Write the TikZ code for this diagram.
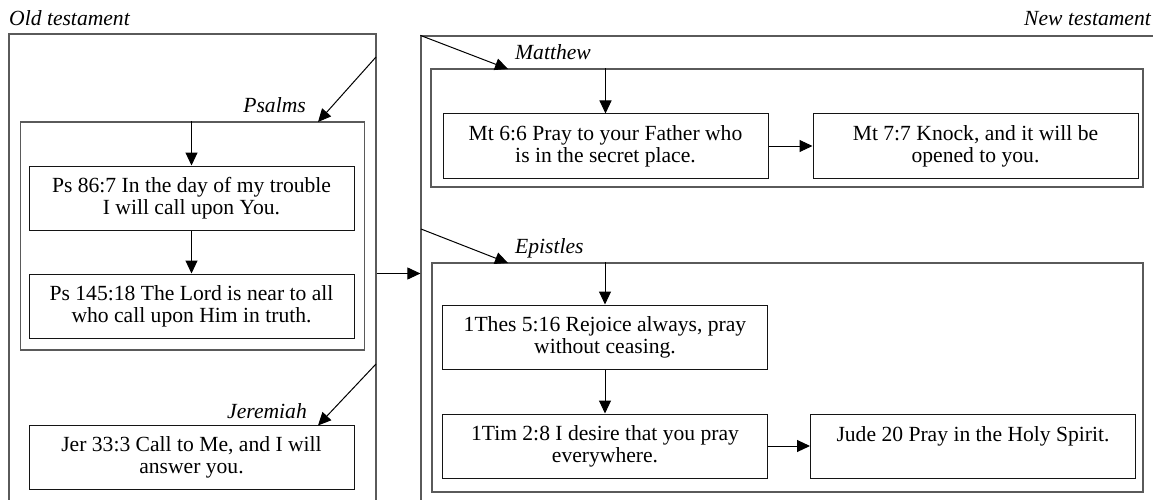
\documentclass[tikz,border=0pt]{standalone}
\usepackage{fontspec}
\setmainfont{Liberation Serif}
\usetikzlibrary{arrows.meta,positioning}
\definecolor{frameGray}{RGB}{90,90,90}
\definecolor{verseInk}{RGB}{20,20,20}

\begin{document}
\begin{tikzpicture}[x=1pt, y=-1pt,
    verse/.style={rectangle, draw=verseInk, line width=1pt, minimum width=325pt,
                  minimum height=64pt, inner sep=0pt, align=center,
                  font=\fontsize{21.6}{22}\selectfont},
    group/.style={rectangle, draw=frameGray, line width=1.2pt, inner sep=0pt},
    caption/.style={inner sep=0pt, font=\fontsize{21.6}{22}\selectfont\itshape},
    arr/.style={-{Triangle[length=13pt, width=12pt]}, black, line width=1pt}
  ]
  \useasboundingbox (0,0) rectangle (1153,500);
  \clip (0,0) rectangle (1153,500);

  % testaments and books
  \node[group, minimum width=367pt, minimum height=500pt] (ot) at (192.5,284) {};
  \node[group, minimum width=344pt, minimum height=228pt] (psalms) at (192.5,236) {};
  \node[group, minimum width=760pt, minimum height=500pt] (nt) at (801,286) {};
  \node[group, minimum width=712pt, minimum height=118pt] (matthew) at (787,128) {};
  \node[group, minimum width=711pt, minimum height=229pt] (epistles) at (787.5,377.5) {};

  \node[caption, anchor=base west] (otlabel) at (9,26) {Old testament};
  \node[caption, anchor=base east] (ntlabel) at (1151,26) {New testament};
  \node[caption, anchor=base east] (pslabel) at (306,113) {Psalms};
  \node[caption, anchor=base east] (jerlabel) at (307,418) {Jeremiah};
  \node[caption, anchor=base west] (mtlabel) at (515,60) {Matthew};
  \node[caption, anchor=base west] (eplabel) at (515,253) {Epistles};

  % verses
  \node[verse] (ps86)  at (191.5,198) {Ps 86:7 In the day of my trouble\\I will call upon You.};
  \node[verse, below=43pt of ps86] (ps145) {Ps 145:18 The Lord is near to all\\who call upon Him in truth.};
  \node[verse] (jer)   at (191.5,457.5) {Jer 33:3 Call to Me, and I will\\answer you.};
  \node[verse] (mt66)  at (605.5,146) {Mt 6:6 Pray to your Father who\\is in the secret place.};
  \node[verse, right=44pt of mt66] (mt77) {Mt 7:7 Knock, and it will be\\opened to you.};
  \node[verse] (thes)  at (605,337) {1Thes 5:16 Rejoice always, pray\\without ceasing.};
  \node[verse, below=44pt of thes] (tim) {1Tim 2:8 I desire that you pray\\everywhere.};
  \node[verse, right=42pt of tim] (jude) {\rule{0pt}{19pt}Jude 20 Pray in the Holy Spirit.\\\strut};

  \coordinate (otPs)  at (376,57);
  \coordinate (psIn)  at (318,122);
  \coordinate (otJer) at (376,364);
  \coordinate (jerIn) at (318,425.5);
  \coordinate (mtIn)  at (508,69);
  \coordinate (ntEp)  at (421,229);
  \coordinate (epIn)  at (508,263);

  \draw[arr] (otPs) -- (psIn);
  \draw[arr] (ps86.north |- psalms.north) -- (ps86);
  \draw[arr] (ps86) -- (ps145);
  \draw[arr] (otJer) -- (jerIn);
  \draw[arr] (ot.east |- ps145.north) -- (nt.west |- ps145.north);

  \draw[arr] (nt.north west) -- (mtIn);
  \draw[arr] (mt66.north |- matthew.north) -- (mt66);
  \draw[arr] (mt66) -- (mt77);
  \draw[arr] (ntEp) -- (epIn);
  \draw[arr] (thes.north |- epistles.north) -- (thes);
  \draw[arr] (thes) -- (tim);
  \draw[arr] (tim) -- (jude);
\end{tikzpicture}
\end{document}
